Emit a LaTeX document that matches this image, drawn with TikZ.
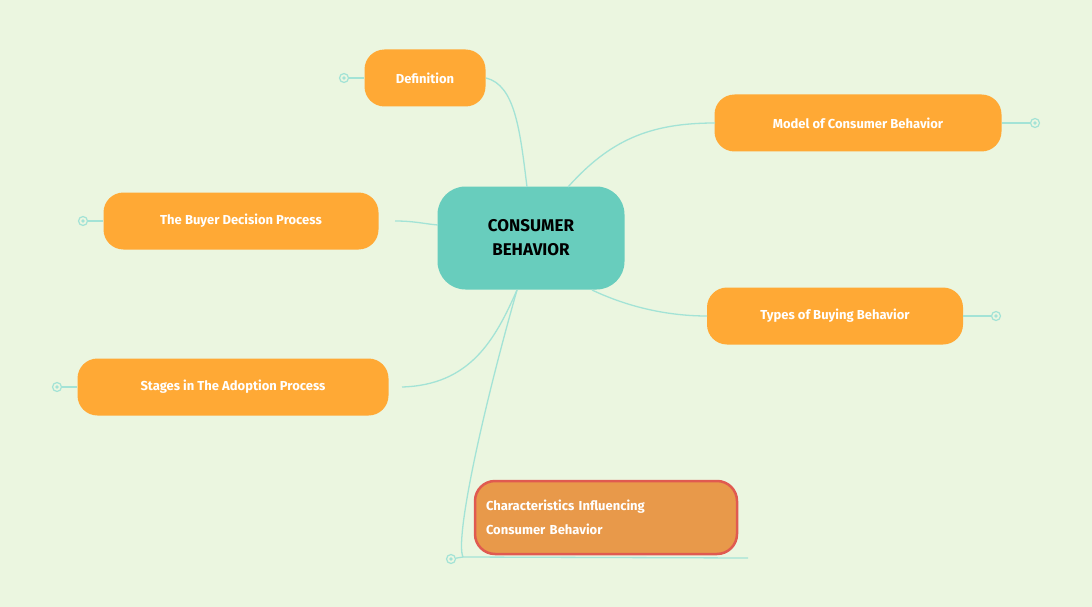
\documentclass[tikz,border=0pt]{standalone}
\usepackage{fontspec}
\setmainfont{Fira Sans}
\begin{document}
\begin{tikzpicture}[x=1pt,y=-1pt,
  topic/.style={fill=orange1,text=white,rounded corners=20pt,font=\fontsize{13}{15}\selectfont\bfseries,inner sep=0pt},
  conn/.style={draw=teal1,line width=1.3pt},
  knob/.style={draw=teal1,line width=1.2pt,circle,inner sep=0pt,minimum size=9pt,fill=bg,path picture={\fill[teal1](path picture bounding box.center) circle (1.8pt);}}]
\definecolor{bg}{HTML}{EBF6E0}
\definecolor{orange1}{HTML}{FFA935}
\definecolor{teal1}{HTML}{A3E3D6}
\definecolor{center1}{HTML}{68CDBD}
\fill[bg] (0,0) rectangle (1092,607);
\useasboundingbox (0,0) rectangle (1092,607);
\node[fill=center1,rounded corners=28pt,minimum width=187pt,minimum height=103pt,align=center,font=\fontsize{17}{24}\selectfont\bfseries] (c) at (531,238) {CONSUMER\\BEHAVIOR};
\node[topic,minimum width=121pt,minimum height=57pt] (def) at (425,78) {Definition};
\node[topic,minimum width=287pt,minimum height=57pt] (mod) at (858,123) {Model of Consumer Behavior};
\node[topic,minimum width=275pt,minimum height=57pt] (buy) at (241,221) {The Buyer Decision Process};
\node[topic,minimum width=256pt,minimum height=57pt] (typ) at (835,316) {Types of Buying Behavior};
\node[topic,minimum width=311pt,minimum height=57pt] (sta) at (233,387) {Stages in The Adoption Process};
\node[fill={rgb,255:red,232;green,153;blue,74},draw={rgb,255:red,224;green,90;blue,80},line width=2.5pt,rounded corners=20pt,text=white,font=\fontsize{13}{24}\selectfont\bfseries,minimum width=262pt,minimum height=73pt,align=left,text width=240pt] (cha) at (606,517.5) {Characteristics Influencing\\Consumer Behavior};
\coordinate (d1) at (486,78); \coordinate (d2) at (527,187);
\coordinate (m1) at (568,187); \coordinate (m2) at (715,123);
\coordinate (b1) at (395,221); \coordinate (b2) at (438,225);
\coordinate (t1) at (592,290); \coordinate (t2) at (707,316);
\coordinate (s1) at (517,290); \coordinate (s2) at (402,387);
\coordinate (h1) at (517,290); \coordinate (h2) at (463,557); \coordinate (h3) at (748,558);
\draw[conn] (d1) .. controls (515,85) and (520,130) .. (d2);
\draw[conn] (m1) .. controls (610,140) and (650,123) .. (m2);
\draw[conn] (b1) .. controls (415,221) and (425,224) .. (b2);
\draw[conn] (t1) .. controls (630,308) and (670,316) .. (t2);
\draw[conn] (s2) .. controls (470,385) and (495,340) .. (s1);
\draw[conn] (h1) .. controls (480,420) and (455,540) .. (h2) -- (h3);
\node[knob] (kd) at (344,78) {}; \draw[conn] (kd) -- (def);
\node[knob] (km) at (1035,123) {}; \draw[conn] (km) -- (mod);
\node[knob] (kb) at (83,221) {}; \draw[conn] (kb) -- (buy);
\node[knob] (kt) at (996,316) {}; \draw[conn] (kt) -- (typ);
\node[knob] (ks) at (57,387) {}; \draw[conn] (ks) -- (sta);
\node[knob] (kc) at (451,559) {}; \draw[conn] (kc) -- (h2);
\end{tikzpicture}
\end{document}
